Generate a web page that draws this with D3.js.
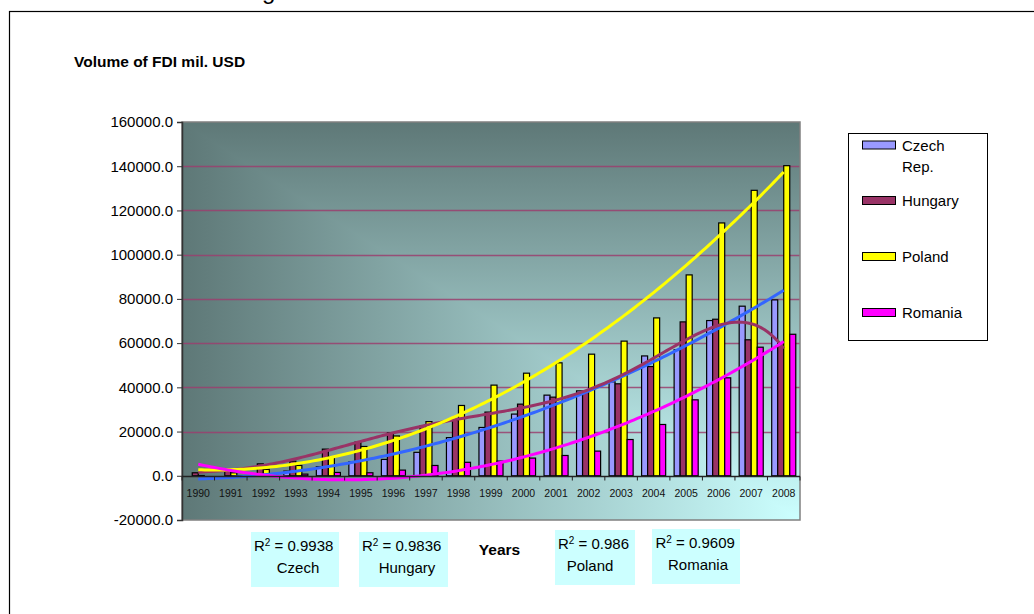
<!DOCTYPE html>
<html>
<head>
<meta charset="utf-8">
<script src="https://cdn.jsdelivr.net/npm/d3@7/dist/d3.min.js"></script>
<style>
  html, body { margin: 0; padding: 0; background: #ffffff; }
  svg { display: block; font-family: Arial, "Liberation Sans", sans-serif; }
</style>
</head>
<body>
<svg id="chart" width="1034" height="614"></svg>
<script>
// FDI inflows, million USD
const years = ["1990","1991","1992","1993","1994","1995","1996","1997","1998","1999",
               "2000","2001","2002","2003","2004","2005","2006","2007","2008"];
const czech   = [0, 0, 0, 2100, 4070, 6300, 7400, 10600, 17250, 21850,
                 27900, 36470, 38400, 42500, 54200, 57000, 70200, 76700, 79550];
const hungary = [1350, 3000, 5400, 6600, 12050, 15200, 19350, 22500, 25300, 28800,
                 32400, 35560, 38000, 41600, 49400, 69600, 70800, 61500, 60000];
const poland  = [100, 1350, 2860, 4670, 8590, 13250, 18000, 24500, 31800, 41000,
                 46400, 51080, 55000, 60900, 71400, 90850, 114350, 129100, 140250];
const romania = [0, 40, 120, 750, 1500, 1360, 2560, 4660, 6100, 6640,
                 8000, 9180, 11160, 16400, 23200, 34350, 44300, 58150, 64000];
const seriesNames = ["Czech Rep.", "Hungary", "Poland", "Romania"];
const seriesColors = ["#9999FF", "#993366", "#FFFF00", "#FF00FF"];
const trendColors  = ["#3366FF", "#993366", "#FFFF00", "#FF00FF"];
const trendOrders  = [2, 6, 2, 2];
const yTicks = [-20000, 0, 20000, 40000, 60000, 80000, 100000, 120000, 140000, 160000];
const fitLabels = [
  { r2: "0.9938", name: "Czech" },
  { r2: "0.9836", name: "Hungary" },
  { r2: "0.986",  name: "Poland" },
  { r2: "0.9609", name: "Romania" }
];
const seriesValues = [czech, hungary, poland, romania];

const svg = d3.select("#chart");
const plot = { left: 182, right: 800, top: 122, bottom: 520 };

const x = d3.scaleBand().domain(years).range([plot.left, plot.right])
  .paddingInner(0.26).paddingOuter(0.13);
const xs = d3.scaleBand().domain(d3.range(4)).range([0, x.bandwidth()]);
const y = d3.scaleLinear().domain([-20000, 160000]).range([plot.bottom, plot.top]);

// outer chart frame and clipped heading above it
svg.append("text").attr("x", 262).attr("y", -1).attr("font-size", 24).text("g");
svg.append("rect").attr("x", 9.5).attr("y", 11.5).attr("width", 1100).attr("height", 700)
  .attr("fill", "none").attr("stroke", "#000").attr("stroke-width", 1.2);

// plot background: corner gradient (vertical bands above the diagonal, horizontal below)
const defs = svg.append("defs");
const dark = "#5E7877", light = "#CCFFFF";
const gv = defs.append("linearGradient").attr("id", "gv")
  .attr("gradientUnits", "userSpaceOnUse")
  .attr("x1", 0).attr("y1", plot.top).attr("x2", 0).attr("y2", plot.bottom);
gv.append("stop").attr("offset", 0).attr("stop-color", dark);
gv.append("stop").attr("offset", 1).attr("stop-color", light);
const gh = defs.append("linearGradient").attr("id", "gh")
  .attr("gradientUnits", "userSpaceOnUse")
  .attr("x1", plot.left).attr("y1", 0).attr("x2", plot.right).attr("y2", 0);
gh.append("stop").attr("offset", 0).attr("stop-color", dark);
gh.append("stop").attr("offset", 1).attr("stop-color", light);

const L = plot.left, R = plot.right, T = plot.top, B = plot.bottom;
svg.append("rect").attr("x", L).attr("y", T).attr("width", R - L).attr("height", B - T)
  .attr("fill", "url(#gh)");
svg.append("path").attr("d", `M${L},${T}L${R},${T}L${R},${B}Z`).attr("fill", "url(#gv)");

// gridlines
svg.append("g").selectAll("line")
  .data(yTicks.filter(v => v > 0 && v < 160000))
  .join("line")
  .attr("x1", L).attr("x2", R)
  .attr("y1", d => Math.round(y(d)) + 0.5).attr("y2", d => Math.round(y(d)) + 0.5)
  .attr("stroke", "#9A3F6E").attr("stroke-opacity", 0.85).attr("stroke-width", 1.3);

// plot border
svg.append("rect").attr("x", L).attr("y", T).attr("width", R - L).attr("height", B - T)
  .attr("fill", "none").attr("stroke", "#808080").attr("stroke-width", 1.5);

// bars
const groups = svg.append("g").selectAll("g")
  .data(years).join("g")
  .attr("transform", d => `translate(${x(d)},0)`);
groups.selectAll("rect")
  .data((d, i) => seriesValues.map((s, k) => ({ k, v: s[i] })))
  .join("rect")
  .attr("x", d => xs(d.k))
  .attr("width", xs.bandwidth())
  .attr("y", d => y(Math.max(0, d.v)))
  .attr("height", d => Math.abs(y(d.v) - y(0)))
  .attr("fill", d => seriesColors[d.k])
  .attr("stroke", "#000").attr("stroke-width", 1.2);

// least-squares polynomial trend lines
function polyFit(vals, order) {
  const n = vals.length, c = (n - 1) / 2;
  const ts = vals.map((_, i) => (i - c) / c);
  const m = order + 1;
  const A = Array.from({ length: m }, () => new Array(m + 1).fill(0));
  ts.forEach((t, i) => {
    for (let r = 0; r < m; r++) {
      for (let q = 0; q < m; q++) A[r][q] += Math.pow(t, r + q);
      A[r][m] += Math.pow(t, r) * vals[i];
    }
  });
  for (let col = 0; col < m; col++) {
    let piv = col;
    for (let r = col + 1; r < m; r++) if (Math.abs(A[r][col]) > Math.abs(A[piv][col])) piv = r;
    [A[col], A[piv]] = [A[piv], A[col]];
    for (let r = 0; r < m; r++) {
      if (r === col) continue;
      const f = A[r][col] / A[col][col];
      for (let q = col; q <= m; q++) A[r][q] -= f * A[col][q];
    }
  }
  const coef = A.map((row, r) => row[m] / row[r]);
  return i => { const t = (i - c) / c; return coef.reduce((s, a, p) => s + a * Math.pow(t, p), 0); };
}

const step = x.step();
const x0 = x(years[0]) + x.bandwidth() / 2;
const line = d3.line().x(d => x0 + d[0] * step).y(d => y(d[1])).curve(d3.curveLinear);
seriesValues.forEach((s, k) => {
  const f = polyFit(s, trendOrders[k]);
  const pts = d3.range(0, years.length - 1 + 1e-9, 0.1).map(i => [i, f(i)]);
  svg.append("path").datum(pts).attr("d", line)
    .attr("fill", "none").attr("stroke", trendColors[k]).attr("stroke-width", 3)
    .attr("stroke-linejoin", "round");
});

// axes
const fmt = d3.format(".1f");
const yAxis = d3.axisLeft(y).tickValues(yTicks)
  .tickFormat(d => fmt(d).replace("\u2212", "-")).tickSize(5).tickPadding(4);
const gy = svg.append("g").attr("transform", `translate(${L},0)`).call(yAxis);
gy.select(".domain").attr("stroke", "#333").attr("stroke-width", 1.5);
gy.selectAll(".tick line").attr("stroke", "#333");
gy.selectAll("text").attr("font-size", 15).attr("fill", "#000")
  .attr("font-family", "Arial, 'Liberation Sans', sans-serif");

const gx = svg.append("g").attr("transform", `translate(0,${Math.round(y(0)) + 0.5})`);
gx.append("line").attr("x1", L).attr("x2", R).attr("stroke", "#222").attr("stroke-width", 1.5);
gx.selectAll("line.tk").data(d3.range(years.length + 1)).join("line").attr("class", "tk")
  .attr("x1", i => L + i * step).attr("x2", i => L + i * step)
  .attr("y1", 0).attr("y2", 4).attr("stroke", "#222");
gx.selectAll("text").data(years).join("text")
  .attr("x", d => x(d) + x.bandwidth() / 2).attr("y", 20)
  .attr("text-anchor", "middle").attr("font-size", 10.5).attr("fill", "#111").text(d => d);

// axis titles
svg.append("text").attr("x", 74).attr("y", 67).attr("font-size", 15.5).attr("font-weight", "bold")
  .text("Volume of FDI mil. USD");
svg.append("text").attr("x", 499.5).attr("y", 555).attr("text-anchor", "middle")
  .attr("font-size", 15.5).attr("font-weight", "bold").text("Years");

// legend
const lg = svg.append("g");
lg.append("rect").attr("x", 848.5).attr("y", 133.5).attr("width", 139).attr("height", 207)
  .attr("fill", "#fff").attr("stroke", "#000").attr("stroke-width", 1);
const legendRows = [
  { lines: ["Czech", "Rep."], cy: 145 },
  { lines: ["Hungary"], cy: 200.5 },
  { lines: ["Poland"], cy: 256.5 },
  { lines: ["Romania"], cy: 312.5 }
];
legendRows.forEach((r, k) => {
  lg.append("rect").attr("x", 862.5).attr("y", r.cy - 4).attr("width", 33).attr("height", 8)
    .attr("fill", seriesColors[k]).attr("stroke", "#000").attr("stroke-width", 1);
  r.lines.forEach((t, j) => {
    lg.append("text").attr("x", 902).attr("y", r.cy + 5.5 + j * 21.5)
      .attr("font-size", 15).text(t);
  });
});

// fit quality boxes
const boxes = [
  { x: 251, y: 532, w: 88, h: 55, lx: 254, cx: 298 },
  { x: 359, y: 532, w: 89, h: 55, lx: 362, cx: 407 },
  { x: 555, y: 530, w: 80, h: 55, lx: 558, cx: 590 },
  { x: 652, y: 529, w: 88, h: 55, lx: 655.5, cx: 698 }
];
boxes.forEach((b, k) => {
  const g = svg.append("g");
  g.append("rect").attr("x", b.x).attr("y", b.y).attr("width", b.w).attr("height", b.h)
    .attr("fill", "#CCFFFF");
  const t1 = g.append("text").attr("x", b.lx).attr("y", b.y + 19).attr("font-size", 15);
  t1.append("tspan").text("R");
  t1.append("tspan").attr("font-size", 10).attr("dy", -5).text("2");
  t1.append("tspan").attr("dy", 5).text(" = " + fitLabels[k].r2);
  g.append("text").attr("x", b.cx).attr("y", b.y + 41).attr("text-anchor", "middle")
    .attr("font-size", 15).text(fitLabels[k].name);
});
</script>
</body>
</html>
